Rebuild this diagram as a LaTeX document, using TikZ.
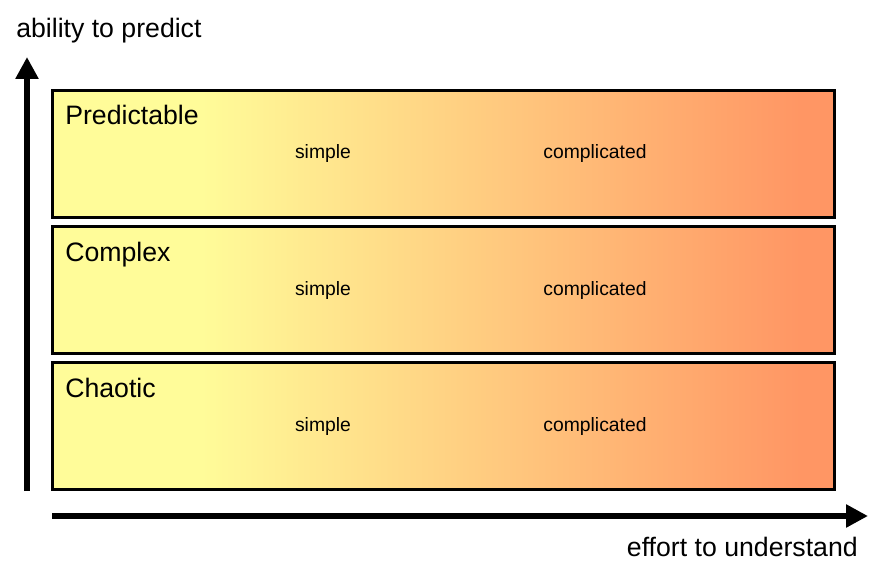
\documentclass[tikz,border=0pt]{standalone}
\usepackage{fontspec}
\setmainfont{Liberation Sans}
\usetikzlibrary{
    arrows.meta,
    positioning,
    calc
}
\definecolor{boxyellow}{RGB}{255,252,153}
\definecolor{boxorange}{RGB}{255,150,100}
\pgfdeclarehorizontalshading{boxfade}{100bp}{color(0bp)=(boxyellow); color(34.5bp)=(boxyellow); color(72.8bp)=(boxorange); color(100bp)=(boxorange)}

\begin{document}
\begin{tikzpicture}[x=0.75pt, y=-0.75pt, >=stealth,
    row-box/.style={rectangle, draw=black, line width=2.25pt, shading=boxfade,
                    minimum width=586.5pt, minimum height=95.25pt, inner sep=0pt},
    row-title/.style={anchor=base west, inner sep=0pt, font=\fontsize{20}{24}\selectfont},
    row-item/.style={anchor=base, inner sep=0pt, font=\fontsize{14.5}{17}\selectfont},
    axis-label/.style={inner sep=0pt, font=\fontsize{20}{24}\selectfont},
    axis-arrow/.style={line width=4.5pt, -{Triangle[width=16.5pt, length=16.5pt]}}]
    \useasboundingbox (0,0) rectangle (878,574);
    % the three boxes
    \node[row-box] (predictable) at (443.5,154) {};
    \node[row-box] (complex) at (443.5,290) {};
    \node[row-box] (chaotic) at (443.5,426) {};
    \node[row-title] (predictable-title) at (65,125) {Predictable};
    \node[row-title] (complex-title) at (65,261) {Complex};
    \node[row-title] (chaotic-title) at (65,397) {Chaotic};
    \node[row-item] (predictable-simple) at (323,159) {simple};
    \node[row-item] (predictable-compl) at (595,159) {complicated};
    \node[row-item] (complex-simple) at (323,295) {simple};
    \node[row-item] (complex-compl) at (595,295) {complicated};
    \node[row-item] (chaotic-simple) at (323,431) {simple};
    \node[row-item] (chaotic-compl) at (595,431) {complicated};
    % axes
    \coordinate (y-foot) at (27,491);
    \coordinate (y-top) at (27,57);
    \coordinate (x-foot) at (52,516);
    \coordinate (x-end) at (868,516);
    \draw[axis-arrow] (y-foot) -- (y-top);
    \draw[axis-arrow] (x-foot) -- (x-end);
    \node[axis-label, anchor=base west] (y-label) at (16,38) {ability to predict};
    \node[axis-label, anchor=base east] (x-label) at (858,556) {effort to understand};
\end{tikzpicture}
\end{document}
